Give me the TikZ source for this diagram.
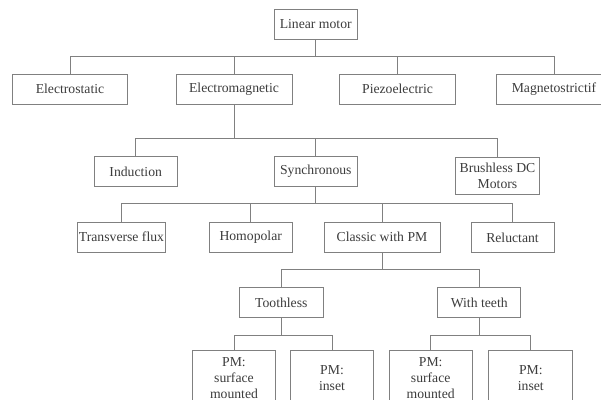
\documentclass[tikz,border=0pt]{standalone}
\usepackage{fontspec}
\setmainfont{Liberation Serif}
\usepackage{xcolor}
\usepackage{tikz}
\definecolor{linegray}{HTML}{808080}
\definecolor{textgray}{HTML}{3C3C3C}

\begin{document}
\begin{tikzpicture}[x=1pt,y=-1pt,
    box/.style={draw=linegray,line width=0.8pt,text=textgray,inner sep=0pt,
      minimum height=30pt,align=center,font=\fontsize{13.7}{16.4}\selectfont},
    wire/.style={draw=linegray,line width=0.8pt}]
    \useasboundingbox (0,0) rectangle (601,399);
    \clip (0,0) rectangle (601,399);
    % level 1
    \node[box,minimum width=83pt] (lm) at (315.7,24) {Linear motor};
    \node[box,minimum width=115pt] (es) at (70,89.3) {Electrostatic};
    \node[box,minimum width=116pt] (em) at (234,89.3) {Electromagnetic};
    \node[box,minimum width=116pt] (pe) at (397.5,89.3) {Piezoelectric};
    \node[box,minimum width=116pt] (ms) at (554,89.3) {Magnetostrictif};
    % level 2
    \node[box,minimum width=83pt] (in) at (135.7,171.7) {Induction};
    \node[box,minimum width=83pt] (sy) at (315.8,171.7) {Synchronous};
    \node[box,minimum width=84pt,minimum height=37.7pt] (bl) at (497.5,175.8) {Brushless DC\\Motors};
    % level 3
    \node[box,minimum width=88pt] (tf) at (121.5,237.2) {Transverse flux};
    \node[box,minimum width=83pt] (ho) at (250.7,237.2) {Homopolar};
    \node[box,minimum width=116pt] (cl) at (382,237.2) {Classic with PM};
    \node[box,minimum width=83pt] (re) at (512.5,237.4) {Reluctant};
    % level 4
    \node[box,minimum width=84pt] (to) at (281.3,302.5) {Toothless};
    \node[box,minimum width=83pt] (wt) at (479.2,302.5) {With teeth};
    % level 5
    \node[box,minimum width=83pt,minimum height=56pt] (ps1) at (234,378) {PM:\\surface\\mounted};
    \node[box,minimum width=83pt,minimum height=56pt] (pi1) at (332,378) {PM:\\inset};
    \node[box,minimum width=83pt,minimum height=56pt] (ps2) at (430.7,378) {PM:\\surface\\mounted};
    \node[box,minimum width=84pt,minimum height=56pt] (pi2) at (530.8,378) {PM:\\inset};
    % bus levels
    \coordinate (b1) at (0,56.7);
    \coordinate (b2) at (0,138.8);
    \coordinate (b3) at (0,203.7);
    \coordinate (b4) at (0,269);
    \coordinate (b5) at (0,335);
    \foreach \c in {es,em,pe,ms}
      \draw[wire] (lm.south) -- (lm.south |- b1) -| (\c.north);
    \foreach \c in {in,sy,bl}
      \draw[wire] (em.south) -- (em.south |- b2) -| (\c.north);
    \foreach \c in {tf,ho,cl,re}
      \draw[wire] (sy.south) -- (sy.south |- b3) -| (\c.north);
    \foreach \c in {to,wt}
      \draw[wire] (cl.south) -- (cl.south |- b4) -| (\c.north);
    \foreach \c in {ps1,pi1}
      \draw[wire] (to.south) -- (to.south |- b5) -| (\c.north);
    \foreach \c in {ps2,pi2}
      \draw[wire] (wt.south) -- (wt.south |- b5) -| (\c.north);
\end{tikzpicture}
\end{document}
